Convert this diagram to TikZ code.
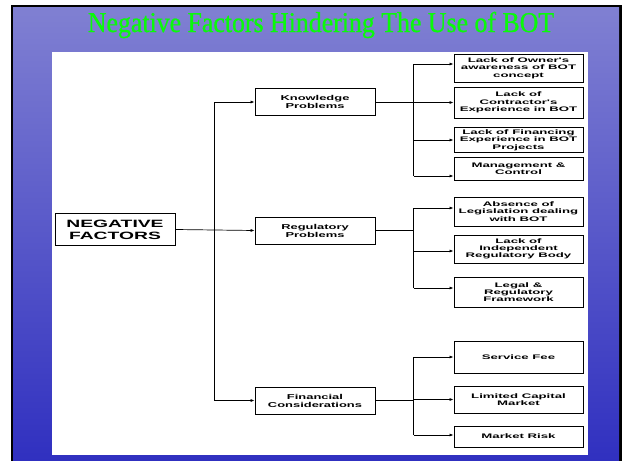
\documentclass[tikz,border=0pt]{standalone}
\usepackage{fontspec}
\setmainfont{Liberation Sans}
\newfontfamily\boxfont[FakeStretch=1.82]{Liberation Sans}
\newfontfamily\itemfont[FakeStretch=2.0]{Liberation Sans}
\newfontfamily\titlefont[FakeStretch=0.9,FakeBold=0.8]{Liberation Serif}
\usetikzlibrary{shapes,arrows.meta,positioning,fadings}

\definecolor{titlegreen}{RGB}{10,250,10}
\definecolor{skytop}{RGB}{128,128,210}
\definecolor{skypale}{RGB}{182,182,224}
\definecolor{skybottom}{RGB}{48,48,192}

\tikzset{
  rootbox/.style={draw, line width=0.9pt, minimum width=120pt, minimum height=32pt,
    inner sep=0pt, align=center, font=\boxfont\bfseries\fontsize{10.6}{12.3}\selectfont},
  topicbox/.style={draw, line width=0.8pt, minimum width=120pt, minimum height=27pt,
    inner sep=0pt, align=center, font=\boxfont\bfseries\fontsize{7.1}{8}\selectfont},
  itembox/.style={draw, line width=0.9pt, minimum width=129pt,
    inner sep=0pt, align=center, font=\itemfont\bfseries\fontsize{6.6}{7.3}\selectfont},
  wire/.style={line width=0.7pt},
  link/.style={wire, -{Latex[length=4pt,width=3pt]}}
}

\begin{document}
\begin{tikzpicture}[x=1pt, y=-1pt]
\useasboundingbox (0,0) rectangle (622,461);

% slide background
\fill[black] (11,5) rectangle (622,461);
\shade[top color=skytop, bottom color=skybottom] (13,7) rectangle (619,461);
\shade[top color=skytop, middle color=skypale, bottom color=skybottom] (13,7) rectangle (52,461);
\fill[white] (52,52) rectangle (588,455);

% title
\node[anchor=base, text=titlegreen, font=\titlefont\fontsize{28.7}{30}\selectfont] (title) at (321,32)
  {Negative Factors Hindering The Use of BOT};

% root and the three problem groups
\node[rootbox] (root) at (115,229.5) {NEGATIVE\\FACTORS};
\node[topicbox] (know) at (315,102) {Knowledge\\Problems};
\node[topicbox] (reg) at (315,230.5) {Regulatory\\Problems};
\node[topicbox] (fin) at (315,400.5) {Financial\\Considerations};

% knowledge items
\node[itembox, minimum height=28pt] (k1) at (518.5,68) {Lack of Owner's\\awareness of BOT\\concept};
\node[itembox, minimum height=31pt] (k2) at (518.5,102.5) {Lack of\\Contractor's\\Experience in BOT};
\node[itembox, minimum height=25pt] (k3) at (518.5,140) {Lack of Financing\\Experience in BOT\\Projects};
\node[itembox, minimum height=23pt] (k4) at (518.5,168.5) {Management \&\\Control};

% regulatory items
\node[itembox, minimum height=29pt] (r1) at (518.5,211.5) {Absence of\\Legislation dealing\\with BOT};
\node[itembox, minimum height=28pt] (r2) at (518.5,249) {Lack of\\Independent\\Regulatory Body};
\node[itembox, minimum height=30pt] (r3) at (518.5,292) {Legal \&\\Regulatory\\Framework};

% financial items
\node[itembox, minimum height=32pt] (f1) at (518.5,357) {Service Fee};
\node[itembox, minimum height=27pt] (f2) at (518.5,399.5) {Limited Capital\\Market};
\node[itembox, minimum height=21pt] (f3) at (518.5,436.5) {Market Risk};

% trunk
\coordinate (trunk) at (214,0);
\draw[link] (root.east) -- (reg.west);
\draw[wire] (trunk |- know.west) -- (trunk |- fin.west);
\foreach \t in {know,fin}
  \draw[link] (trunk |- \t.west) -- (\t.west);

% branches: item/shift of the arrow
\draw[wire] (know.east) -- ([xshift=-40pt]k2.west |- know.east);
\draw[wire] ([yshift=4pt,xshift=-40pt]k1.west) -- ([yshift=-7.5pt,xshift=-40pt]k4.west);
\foreach \n/\s in {k1/4,k2/0,k3/0,k4/-7.5}
  \draw[link] ([yshift=\s pt,xshift=-40pt]\n.west) -- ([yshift=\s pt]\n.west);

\draw[wire] (reg.east) -- ([xshift=-40pt]r2.west |- reg.east);
\draw[wire] ([yshift=3.5pt,xshift=-40pt]r1.west) -- ([yshift=4pt,xshift=-40pt]r3.west);
\foreach \n/\s in {r1/3.5,r2/-2,r3/4}
  \draw[link] ([yshift=\s pt,xshift=-40pt]\n.west) -- ([yshift=\s pt]\n.west);

\draw[wire] (fin.east) -- ([xshift=-40pt]f2.west |- fin.east);
\draw[wire] ([xshift=-40pt]f1.west) -- ([yshift=1.5pt,xshift=-40pt]f3.west);
\foreach \n/\s in {f1/0,f2/0,f3/1.5}
  \draw[link] ([yshift=\s pt,xshift=-40pt]\n.west) -- ([yshift=\s pt]\n.west);
\end{tikzpicture}
\end{document}
